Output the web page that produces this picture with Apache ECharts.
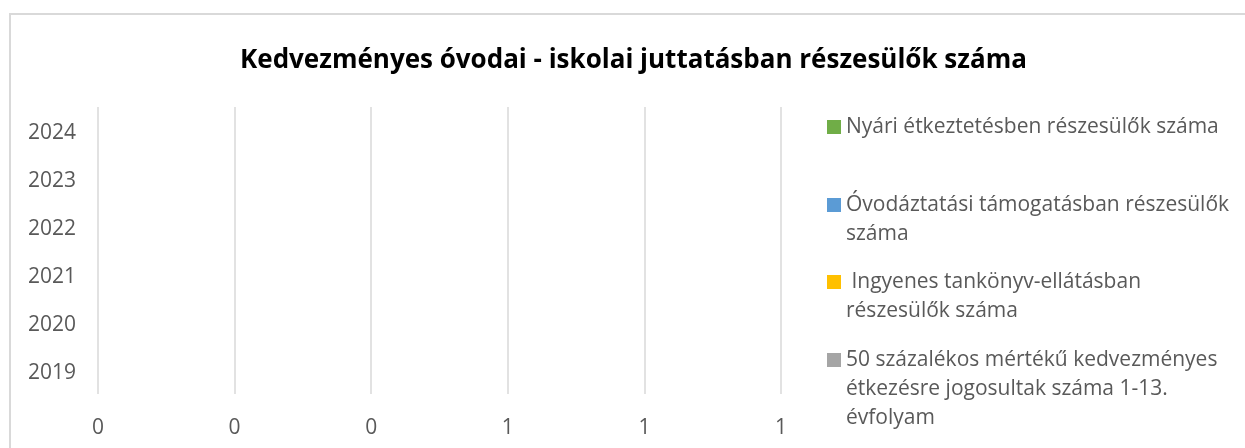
<!DOCTYPE html>
<html>
<head>
<meta charset="utf-8">
<script src="https://cdn.jsdelivr.net/npm/echarts@6/dist/echarts.min.js"></script>
<style>html,body{margin:0;padding:0;background:#fff}#c{width:1245px;height:448px}</style>
</head>
<body>
<div id="c"></div>
<script>
const title = 'Kedvezményes óvodai - iskolai juttatásban részesülők száma';
const categories = ['2019', '2020', '2021', '2022', '2023', '2024'];
const seriesNames = [
  'Nyári étkeztetésben részesülők száma',
  'Óvodáztatási támogatásban részesülők száma',
  ' Ingyenes tankönyv-ellátásban részesülők száma',
  '50 százalékos mértékű kedvezményes étkezésre jogosultak száma 1-13. évfolyam'
];
const legendLines = [
  ['Nyári étkeztetésben részesülők száma'],
  ['Óvodáztatási támogatásban részesülők', 'száma'],
  [' Ingyenes tankönyv-ellátásban', 'részesülők száma'],
  ['50 százalékos mértékű kedvezményes', 'étkezésre jogosultak száma 1-13.', 'évfolyam']
];
const seriesColors = ['#70ad47', '#5b9bd5', '#ffc000', '#a5a5a5'];
const nyariValues = [0, 0, 0, 0, 0, 0];
const ovodaValues = [0, 0, 0, 0, 0, 0];
const tankonyvValues = [0, 0, 0, 0, 0, 0];
const etkezesValues = [0, 0, 0, 0, 0, 0];
const seriesValues = [nyariValues, ovodaValues, tankonyvValues, etkezesValues];

const FONT = 'Open Sans';
const FS = 21;
const LH = 29;
const legendCenters = [127, 205, 282, 360];

const chart = echarts.init(document.getElementById('c'), null, {renderer: 'canvas'});
const legends = seriesNames.map((name, i) => {
  const n = legendLines[i].length;
  const H = (2 * n - 1) * LH;
  const blank = new Array(n - 1).fill('');
  return {
    orient: 'vertical',
    left: 822,
    top: legendCenters[i] - H / 2 - 5,
    itemWidth: 14,
    itemHeight: 14,
    itemGap: 0,
    icon: 'rect',
    data: [name],
    formatter: () => blank.concat(legendLines[i]).join('\n'),
    textStyle: {
      fontFamily: FONT,
      fontSize: FS,
      color: '#595959',
      lineHeight: LH
    }
  };
});

chart.setOption({
  animation: false,
  backgroundColor: '#fff',
  title: {
    text: title,
    left: 235,
    top: 43,
    textStyle: {fontFamily: FONT, fontSize: 26, fontWeight: 'bold', color: '#000'}
  },
  graphic: [{
    type: 'rect',
    shape: {x: 10, y: 14, width: 1400, height: 600},
    style: {fill: 'none', stroke: '#d9d9d9', lineWidth: 2},
    silent: true
  }],
  legend: legends,
  grid: {left: 98, top: 107, width: 683, height: 287},
  xAxis: {
    type: 'value',
    min: 0, max: 1, interval: 0.2,
    axisLine: {show: false},
    axisTick: {show: false},
    splitLine: {lineStyle: {color: '#d9d9d9', width: 1.5}},
    axisLabel: {
      formatter: v => String(Math.round(v)),
      fontFamily: FONT, fontSize: FS, color: '#595959', margin: 24
    }
  },
  yAxis: {
    type: 'category',
    data: categories,
    axisLine: {show: false},
    axisTick: {show: false},
    axisLabel: {
      margin: 22,
      formatter: v => '{y|' + v + '}',
      rich: {y: {fontFamily: FONT, fontSize: FS, color: '#595959', padding: [5, 0, 0, 0]}}
    }
  },
  series: seriesNames.map((name, i) => ({
    type: 'bar',
    name: name,
    data: seriesValues[i],
    itemStyle: {color: seriesColors[i]}
  }))
});
</script>
</body>
</html>
